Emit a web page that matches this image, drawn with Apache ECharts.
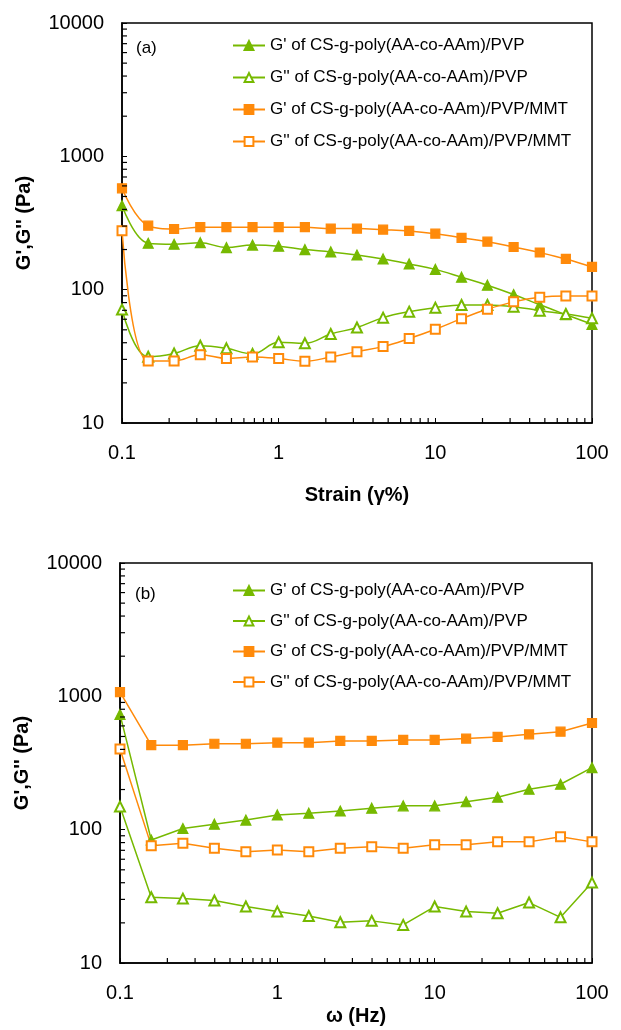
<!DOCTYPE html>
<html>
<head>
<meta charset="utf-8">
<script src="https://cdn.jsdelivr.net/npm/echarts@6/dist/echarts.min.js"></script>
<style>
  html, body { margin: 0; padding: 0; background: #fff; }
  #chart { width: 621px; height: 1030px; }
</style>
</head>
<body>
<div id="chart"></div>
<script>
// (a) strain sweep
const strainX = [0.1, 0.147, 0.215, 0.316, 0.464, 0.681, 1, 1.47, 2.15, 3.16, 4.64, 6.81, 10, 14.7, 21.5, 31.6, 46.4, 68.1, 100];
const strainGpPVP = [427, 223, 219, 225, 207, 216, 212, 200, 192, 182, 170, 156, 142, 124, 108, 92, 77, 65, 55];
const strainGppPVP = [71, 31.4, 33.2, 38, 36.3, 33, 40.3, 39.6, 46.5, 52, 61.7, 68.4, 73.3, 76.8, 76.8, 74.6, 69.6, 65.7, 61];
const strainGpMMT = [576, 302, 285, 294, 294, 294, 294, 294, 287, 287, 282, 276, 263, 245, 229, 209, 190, 170, 148];
const strainGppMMT = [277, 29.2, 29.2, 32.5, 30.5, 31.3, 30.5, 29, 31.3, 34.3, 37.4, 43, 50.5, 60.6, 71.3, 81, 87.7, 89.7, 89.7];

// (b) frequency sweep
const freqX = [0.1, 0.158, 0.251, 0.398, 0.631, 1, 1.585, 2.512, 3.981, 6.31, 10, 15.85, 25.12, 39.81, 63.1, 100];
const freqGpPVP = [733, 83.7, 102, 110, 118, 129, 133, 138, 145, 151, 151, 162, 175, 201, 219, 292];
const freqGppPVP = [149, 31.1, 30.4, 29.4, 26.5, 24.3, 22.5, 20.2, 20.7, 19.3, 26.5, 24.3, 23.6, 28.4, 22.0, 40.1];
const freqGpMMT = [1075, 430, 430, 441, 441, 449, 449, 463, 463, 471, 471, 482, 496, 519, 543, 631];
const freqGppMMT = [403, 75.9, 79, 72.5, 68.4, 70.4, 68.4, 72.5, 74.6, 72.5, 77.2, 77.2, 81, 81, 88.6, 81];

const names = [
  "G' of CS-g-poly(AA-co-AAm)/PVP",
  "G'' of CS-g-poly(AA-co-AAm)/PVP",
  "G' of CS-g-poly(AA-co-AAm)/PVP/MMT",
  "G'' of CS-g-poly(AA-co-AAm)/PVP/MMT"
];
const xMinorTicks = [0.2, 0.3, 0.4, 0.5, 0.6, 0.7, 0.8, 0.9, 2, 3, 4, 5, 6, 7, 8, 9, 20, 30, 40, 50, 60, 70, 80, 90];
const yMinorTicks = [20, 30, 40, 50, 60, 70, 80, 90, 200, 300, 400, 500, 600, 700, 800, 900, 2000, 3000, 4000, 5000, 6000, 7000, 8000, 9000];

const GREEN = '#76b900';
const ORANGE = '#ff8a0a';
const FONT = 'Liberation Sans, Arial, sans-serif';

const chart = echarts.init(document.getElementById('chart'));

function pairs(xs, ys) {
  return xs.map((x, i) => [x, ys[i]]);
}

// plain numbers, no thousands separators
function plain(v) {
  return String(+(+v).toPrecision(6));
}

function xAxisFor(idx, title, gap) {
  return {
    type: 'log', logBase: 10, gridIndex: idx, min: 0.1, max: 100,
    name: title, nameLocation: 'middle', nameGap: gap,
    nameTextStyle: { fontFamily: FONT, fontSize: 20, fontWeight: 'bold', color: '#000' },
    axisLine: { lineStyle: { color: '#000', width: 1.5 } },
    axisTick: { inside: true, length: 5, lineStyle: { color: '#000' } },
    axisLabel: { fontFamily: FONT, fontSize: 20, color: '#000', margin: 20, formatter: plain },
    splitLine: { show: false }
  };
}

function yAxisFor(idx) {
  return {
    type: 'log', logBase: 10, gridIndex: idx, min: 10, max: 10000,
    name: "G',G'' (Pa)", nameLocation: 'middle', nameGap: 88,
    nameTextStyle: { fontFamily: FONT, fontSize: 20, fontWeight: 'bold', color: '#000' },
    axisLine: { lineStyle: { color: '#000', width: 1.5 } },
    axisTick: { inside: true, length: 5, lineStyle: { color: '#000' } },
    axisLabel: { fontFamily: FONT, fontSize: 20, color: '#000', margin: 18, formatter: plain },
    splitLine: { show: false }
  };
}

function lineSeries(idx, name, data, color, symbol, size, smooth) {
  return {
    name: name, type: 'line', xAxisIndex: idx, yAxisIndex: idx,
    data: data, smooth: smooth,
    symbol: symbol, symbolSize: size,
    lineStyle: { color: color, width: 1.5 },
    itemStyle: { color: color, borderColor: color, borderWidth: 1.2 },
    emphasis: { disabled: true }
  };
}

// minor ticks (2..9 per decade) drawn inside the frame
function minorSeries(idx) {
  const data = xMinorTicks.map(v => [v, 10, 0]).concat(yMinorTicks.map(v => [0.1, v, 1]));
  return {
    type: 'custom', xAxisIndex: idx, yAxisIndex: idx, silent: true, z: 5,
    data: data,
    renderItem: function (params, api) {
      const p = api.coord([api.value(0), api.value(1)]);
      const vertical = api.value(2) === 0;
      return {
        type: 'line',
        shape: vertical
          ? { x1: p[0], y1: p[1], x2: p[0], y2: p[1] - 5 }
          : { x1: p[0], y1: p[1], x2: p[0] + 5, y2: p[1] },
        style: { stroke: '#000', lineWidth: 1.2 }
      };
    }
  };
}

function legendFor(top, gap) {
  return {
    orient: 'vertical', left: 232, top: top, padding: 0,
    itemWidth: 32, itemHeight: 11, itemGap: gap,
    data: names,
    selectedMode: false,
    textStyle: { fontFamily: FONT, fontSize: 17, color: '#000', lineHeight: 17 }
  };
}

const smoothA = 0.4;

const option = {
  backgroundColor: '#fff',
  animation: false,
  title: [
    { text: '(a)', left: 131, top: 35, textStyle: { fontFamily: FONT, fontSize: 17, fontWeight: 'normal', color: '#000' } },
    { text: '(b)', left: 130, top: 581, textStyle: { fontFamily: FONT, fontSize: 17, fontWeight: 'normal', color: '#000' } }
  ],
  legend: [legendFor(37, 15), legendFor(582, 13.5)],
  grid: [
    { left: 122, top: 23, width: 470, height: 400, show: true, borderColor: '#000', borderWidth: 1.5 },
    { left: 120, top: 563, width: 472, height: 400, show: true, borderColor: '#000', borderWidth: 1.5 }
  ],
  xAxis: [xAxisFor(0, 'Strain (γ%)', 62), xAxisFor(1, 'ω (Hz)', 43)],
  yAxis: [yAxisFor(0), yAxisFor(1)],
  series: [
    minorSeries(0),
    minorSeries(1),
    lineSeries(0, names[0], pairs(strainX, strainGpPVP), GREEN, 'triangle', 10, smoothA),
    lineSeries(0, names[1], pairs(strainX, strainGppPVP), GREEN, 'emptyTriangle', 10, smoothA),
    lineSeries(0, names[2], pairs(strainX, strainGpMMT), ORANGE, 'rect', 9, smoothA),
    lineSeries(0, names[3], pairs(strainX, strainGppMMT), ORANGE, 'emptyRect', 9, smoothA),
    lineSeries(1, names[0], pairs(freqX, freqGpPVP), GREEN, 'triangle', 10, false),
    lineSeries(1, names[1], pairs(freqX, freqGppPVP), GREEN, 'emptyTriangle', 10, false),
    lineSeries(1, names[2], pairs(freqX, freqGpMMT), ORANGE, 'rect', 9, false),
    lineSeries(1, names[3], pairs(freqX, freqGppMMT), ORANGE, 'emptyRect', 9, false)
  ]
};

chart.setOption(option);
</script>
</body>
</html>
